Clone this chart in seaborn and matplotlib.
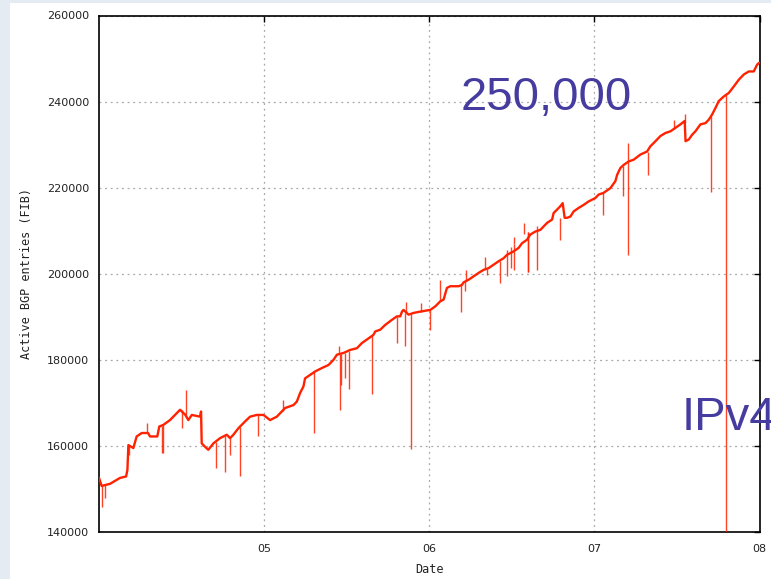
import numpy as np
import pandas as pd
import matplotlib
matplotlib.use("Agg")
import matplotlib.pyplot as plt
from matplotlib.patches import Rectangle
from matplotlib.ticker import FixedLocator, FuncFormatter
import seaborn as sns

# Active BGP FIB entries: underlying trend (decimal year, entries)
trend_year = [
    2004.000, 2004.016, 2004.067, 2004.127, 2004.164, 2004.172, 2004.178, 2004.208,
    2004.228, 2004.259, 2004.297, 2004.309, 2004.353, 2004.365, 2004.390, 2004.430,
    2004.471, 2004.491, 2004.523, 2004.541, 2004.562, 2004.612, 2004.618, 2004.622,
    2004.642, 2004.662, 2004.693, 2004.733, 2004.774, 2004.794, 2004.814, 2004.844,
    2004.885, 2004.915, 2004.956, 2004.996,
    2005.036, 2005.077, 2005.107, 2005.127, 2005.178, 2005.198, 2005.218, 2005.238,
    2005.248, 2005.279, 2005.309, 2005.350, 2005.390, 2005.420, 2005.441, 2005.481,
    2005.521, 2005.562, 2005.592, 2005.622, 2005.662, 2005.673, 2005.703, 2005.733,
    2005.774, 2005.804, 2005.824, 2005.835, 2005.844, 2005.875, 2005.905, 2005.945,
    2005.976, 2006.006, 2006.036, 2006.067,
    2006.087, 2006.107, 2006.127, 2006.178, 2006.198, 2006.208, 2006.238, 2006.268,
    2006.299, 2006.329, 2006.359, 2006.390, 2006.420, 2006.450, 2006.471, 2006.491,
    2006.511, 2006.541, 2006.562, 2006.592, 2006.612, 2006.642, 2006.673, 2006.693,
    2006.713, 2006.744, 2006.753, 2006.774, 2006.794, 2006.808, 2006.820, 2006.835,
    2006.855, 2006.875, 2006.905, 2006.935, 2006.965, 2006.986,
    2007.006, 2007.026, 2007.056, 2007.097, 2007.127, 2007.138, 2007.158, 2007.178,
    2007.208, 2007.238, 2007.279, 2007.319, 2007.339, 2007.370, 2007.400, 2007.430,
    2007.461, 2007.491, 2007.521, 2007.547, 2007.552, 2007.572, 2007.592, 2007.612,
    2007.642, 2007.673, 2007.693, 2007.713, 2007.733, 2007.753, 2007.784, 2007.814,
    2007.844, 2007.875, 2007.905, 2007.935, 2007.965, 2007.986, 2007.998,
]
trend_entries = [
    152600, 150700, 151200, 152560, 152900, 154400, 160200, 159500,
    162200, 163000, 163000, 162200, 162200, 164500, 164900, 166000,
    167600, 168400, 167200, 166000, 167200, 166800, 168000, 160600,
    159800, 159100, 160600, 161800, 162600, 161800, 162600, 164100,
    165700, 166800, 167200, 167200,
    166000, 166800, 168000, 168800, 169500, 170300, 172300, 173800,
    175700, 176500, 177300, 178100, 178800, 180000, 181200, 181600,
    182300, 182700, 183900, 184700, 185800, 186600, 187000, 188100,
    189300, 190100, 190100, 191200, 191600, 190500, 190900, 191200,
    191400, 191600, 192400, 193600,
    194000, 196700, 197100, 197100, 197400, 198000, 198600, 199400,
    200200, 200900, 201300, 202100, 202900, 203600, 204400, 204800,
    205200, 206000, 207100, 207900, 209100, 209800, 210200, 211000,
    211800, 212600, 214100, 214900, 215700, 216400, 213000, 213000,
    213300, 214500, 215300, 216000, 216800, 217200,
    217600, 218400, 218800, 219900, 221500, 223000, 224600, 225300,
    226100, 226500, 227700, 228400, 229600, 230800, 232000, 232700,
    233100, 233900, 234700, 235500, 230800, 231200, 232300, 233100,
    234700, 235000, 235800, 237000, 238500, 240100, 241200, 242000,
    243500, 245100, 246300, 247000, 247000, 248600, 249000,
]

# One-day excursions: date, level before the glitch, level during the glitch
glitch_year = [
    2004.020, 2004.036, 2004.182, 2004.289, 2004.380, 2004.388, 2004.501, 2004.527,
    2004.709, 2004.765, 2004.794, 2004.855, 2004.962,
    2005.113, 2005.305, 2005.456, 2005.461, 2005.467, 2005.491, 2005.511, 2005.656,
    2005.802, 2005.859, 2005.855, 2005.891, 2005.950, 2006.002,
    2006.067, 2006.194, 2006.218, 2006.221, 2006.339, 2006.350, 2006.430, 2006.470,
    2006.496, 2006.512, 2006.516, 2006.573, 2006.598, 2006.601, 2006.650, 2006.792,
    2007.053, 2007.174, 2007.202, 2007.206, 2007.323, 2007.481, 2007.547, 2007.707,
    2007.798,
]
glitch_from = [
    151000, 151000, 160200, 163000, 164700, 164800, 168300, 167000,
    161000, 162500, 161800, 164300, 167200,
    168200, 177300, 181300, 181300, 181400, 181700, 182000, 185800,
    190000, 190800, 190800, 190600, 191200, 191600,
    193600, 197300, 198200, 198200, 201000, 201100, 203000, 205600,
    206200, 207000, 207000, 209300, 209800, 209800, 211000, 213000,
    218800, 225000, 226000, 226000, 228400, 233600, 235000, 236600,
    241500,
]
glitch_to = [
    145900, 147800, 157900, 165300, 158300, 158300, 164200, 173000,
    154800, 154000, 157900, 152900, 162200,
    170700, 163000, 183100, 168400, 174200, 175700, 173200, 172100,
    183900, 193400, 183300, 159200, 193200, 187000,
    198600, 191200, 195900, 200900, 204000, 199800, 197800, 199400,
    201300, 208500, 200900, 211800, 200500, 200500, 200900, 207900,
    213700, 218000, 230400, 204400, 223000, 235800, 237000, 219100,
    0,
]

year_ticks = [2005, 2006, 2007, 2008]
year_labels = ["05", "06", "07", "08"]
entry_ticks = [140000, 160000, 180000, 200000, 220000, 240000, 260000]

trend = pd.DataFrame({"year": trend_year, "entries": trend_entries})
glitches = pd.DataFrame({"year": glitch_year, "low": glitch_from, "high": glitch_to})

sns.set_theme(style="white")
plt.rcParams["font.family"] = ["DejaVu Sans"]

W, H = 771, 579
fig = plt.figure(figsize=(W / 100, H / 100), dpi=100, facecolor="white")

# light frame strip along the left and top edges
fig.patches.append(Rectangle((0, 0), 10 / W, 1, transform=fig.transFigure,
                             facecolor="#e5ebf3", edgecolor="none", zorder=0))
fig.patches.append(Rectangle((0, 1 - 3 / H), 1, 3 / H, transform=fig.transFigure,
                             facecolor="#e5ebf3", edgecolor="none", zorder=0))

left, right = 99 / W, 759.5 / W
bottom, top = 1 - 532 / H, 1 - 15.5 / H
ax = fig.add_axes([left, bottom, right - left, top - bottom])
ax.set_facecolor("white")

line_color = "#ff2200"
ax.vlines(glitches["year"], glitches["low"], glitches["high"],
          color=line_color, linewidth=1.0, alpha=0.85, zorder=3)
sns.lineplot(data=trend, x="year", y="entries", ax=ax, color=line_color,
             linewidth=1.7, estimator=None, sort=False, zorder=4)

ax.set_xlim(2004, 2008)
ax.set_ylim(140000, 260000)
ax.xaxis.set_major_locator(FixedLocator(year_ticks))
ax.xaxis.set_major_formatter(FuncFormatter(
    lambda v, _: year_labels[year_ticks.index(int(round(v)))] if int(round(v)) in year_ticks else ""))
ax.yaxis.set_major_locator(FixedLocator(entry_ticks))
ax.yaxis.set_major_formatter(FuncFormatter(lambda v, _: f"{int(v)}"))

ax.grid(True, color="#a8a8a8", linestyle=(0, (1.5, 3)), linewidth=0.9)
ax.tick_params(direction="in", length=4, width=1.0, color="black",
               top=True, right=True, labelsize=8, labelcolor="#222222")
ax.tick_params(axis="y", pad=7)
ax.tick_params(axis="x", pad=9)
for sp in ax.spines.values():
    sp.set_color("black")
    sp.set_linewidth(1.2)
    sp.set_visible(True)

mono = {"family": "DejaVu Sans Mono", "size": 8.5, "color": "#222222"}
ax.set_xlabel("Date", fontdict=mono, labelpad=6)
ax.set_ylabel("Active BGP entries (FIB)", fontdict=mono, labelpad=10)

callout = {"family": "Liberation Sans", "size": 34, "color": "#463ca0"}
fig.text(461 / W, 1 - 110 / H, "250,000", ha="left", va="baseline", **callout)
fig.text(682 / W, 1 - 430 / H, "IPv4", ha="left", va="baseline", **callout)

fig.savefig("out.png", dpi=100, facecolor="white")
